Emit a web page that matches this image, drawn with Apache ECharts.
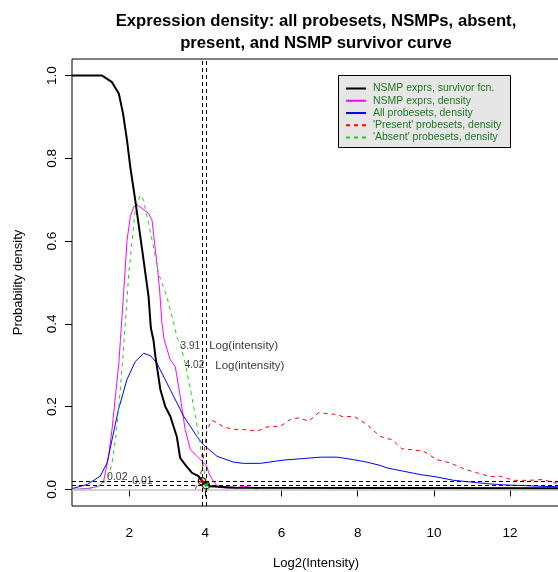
<!DOCTYPE html>
<html><head><meta charset="utf-8">
<script src="https://cdn.jsdelivr.net/npm/echarts@6/dist/echarts.min.js"></script>
<style>html,body{margin:0;padding:0;background:#fff}#c{width:558px;height:572px}</style>
</head><body><div id="c"></div>
<script>
// ---- data ----
const titleText = 'Expression density: all probesets, NSMPs, absent,\npresent, and NSMP survivor curve';
const xTicks = [2, 4, 6, 8, 10, 12];
const yTicks = [0, 0.2, 0.4, 0.6, 0.8, 1.0];
const seriesNames = ['NSMP exprs, survivor fcn.', 'NSMP exprs, density', 'All probesets, density', "'Present' probesets, density", "'Absent' probesets, density"];

const survX = [0.5, 1.29, 1.55, 1.73, 1.84, 1.945, 2.03, 2.16, 2.34, 2.51, 2.57, 2.64, 2.69, 2.82, 2.95, 3.08, 3.25, 3.34, 3.47, 3.65, 3.82, 3.95, 4.13, 4.8, 13.4];
const survY = [1.0, 1.0, 0.984, 0.956, 0.908, 0.843, 0.779, 0.699, 0.58, 0.466, 0.39, 0.36, 0.321, 0.241, 0.2, 0.177, 0.128, 0.076, 0.06, 0.04, 0.032, 0.017, 0.008, 0.004, 0.003];

const nsmpX = [0.5, 0.9, 1.2, 1.33, 1.375, 1.46, 1.55, 1.64, 1.73, 1.77, 1.86, 1.945, 2.03, 2.12, 2.21, 2.34, 2.51, 2.60, 2.66, 2.73, 2.80, 2.86, 2.92, 3.0, 3.08, 3.21, 3.34, 3.47, 3.61, 3.78, 3.96, 4.04, 4.09, 4.18, 4.34, 4.6, 4.8, 5.0, 5.27, 5.4];
const nsmpY = [0, 0.002, 0.008, 0.02, 0.04, 0.08, 0.145, 0.225, 0.305, 0.36, 0.482, 0.602, 0.659, 0.683, 0.687, 0.679, 0.667, 0.651, 0.602, 0.546, 0.482, 0.402, 0.361, 0.337, 0.313, 0.297, 0.225, 0.145, 0.096, 0.08, 0.064, 0.056, 0.04, 0.024, 0.005, 0.003, 0.004, 0.008, 0.004, 0.0];

const allX = [0.5, 0.9, 1.24, 1.42, 1.55, 1.72, 1.94, 2.16, 2.38, 2.56, 2.73, 3.08, 3.43, 3.78, 3.95, 4.31, 4.74, 5.0, 5.44, 6.06, 6.49, 7.02, 7.46, 7.89, 8.24, 8.59, 8.77, 9.2, 9.64, 10.08, 10.52, 10.96, 11.39, 11.83, 12.27, 12.7, 13.4];
const allY = [0.002, 0.012, 0.032, 0.064, 0.12, 0.193, 0.265, 0.309, 0.329, 0.323, 0.305, 0.241, 0.177, 0.128, 0.108, 0.08, 0.066, 0.063, 0.063, 0.071, 0.074, 0.078, 0.078, 0.072, 0.066, 0.058, 0.052, 0.044, 0.036, 0.030, 0.022, 0.018, 0.014, 0.011, 0.0096, 0.008, 0.006];

const presX = [3.74, 3.91, 4.0, 4.04, 4.09, 4.18, 4.22, 4.31, 4.48, 4.74, 5.0, 5.36, 5.62, 5.97, 6.23, 6.45, 6.71, 6.97, 7.24, 7.46, 7.63, 7.89, 8.24, 8.59, 8.9, 9.16, 9.43, 9.73, 10.08, 10.43, 10.78, 11.13, 11.48, 11.74, 12.09, 12.53, 12.88, 13.14, 13.4];
const presY = [0, 0.048, 0.112, 0.145, 0.153, 0.167, 0.169, 0.161, 0.151, 0.145, 0.145, 0.141, 0.151, 0.153, 0.169, 0.173, 0.165, 0.185, 0.183, 0.181, 0.175, 0.177, 0.157, 0.128, 0.12, 0.098, 0.096, 0.092, 0.072, 0.064, 0.050, 0.040, 0.031, 0.032, 0.022, 0.022, 0.024, 0.016, 0.015];

const absX = [0.5, 1.0, 1.2, 1.33, 1.46, 1.55, 1.64, 1.73, 1.81, 1.90, 1.99, 2.08, 2.16, 2.29, 2.38, 2.43, 2.51, 2.64, 2.77, 2.99, 3.17, 3.26, 3.34, 3.47, 3.61, 3.74, 3.87, 3.96, 4.04, 4.13, 4.2];
const absY = [0, 0.001, 0.008, 0.016, 0.032, 0.064, 0.12, 0.2, 0.289, 0.40, 0.522, 0.602, 0.675, 0.711, 0.699, 0.675, 0.643, 0.586, 0.522, 0.466, 0.402, 0.366, 0.353, 0.305, 0.241, 0.177, 0.104, 0.048, 0.016, 0.004, 0];

const cutX = [3.91, 4.02];
const cutY = [0.02, 0.01];
const annoX = [3.86, 4.10, 3.97, 4.26, 1.69, 2.35];
const annoY = [0.347, 0.347, 0.299, 0.299, 0.031, 0.021];
const annoText = ['3.91', 'Log(intensity)', '4.02', 'Log(intensity)', '0.02', '0.01'];

// ---- build ----
const FONT = 'Liberation Sans, Arial, sans-serif';
const zip = (xs, ys) => xs.map((x, i) => [x, ys[i]]);
const chart = echarts.init(document.getElementById('c'), null, {renderer: 'canvas'});

const lineSeries = (name, xs, ys, color, width, type, z) => ({
  name, type: 'line', data: zip(xs, ys), showSymbol: false, symbol: 'none',
  lineStyle: {color, width, type}, itemStyle: {color}, z, animation: false, silent: true
});

const annoAlign = ['right', 'left', 'right', 'left', 'center', 'center'];
const annoSize = [10, 11.5, 10, 11.5, 10.5, 10.5];

chart.setOption({
  animation: false,
  title: {
    text: titleText, left: 311, top: 5, textAlign: 'center',
    textStyle: {fontFamily: FONT, fontSize: 16.7, fontWeight: 'bold', lineHeight: 22, color: '#000'}
  },
  grid: {left: 72, top: 59, right: -2, bottom: 66, show: true, borderColor: '#000', borderWidth: 1,
    backgroundColor: 'transparent', containLabel: false, outerBoundsMode: 'none'},
  xAxis: {
    type: 'value', min: 0.5, max: 13.31,
    name: 'Log2(Intensity)', nameLocation: 'middle', nameGap: 51,
    nameTextStyle: {fontFamily: FONT, fontSize: 13, color: '#000'},
    axisLine: {show: false}, splitLine: {show: false},
    axisTick: {show: true, length: 7, lineStyle: {color: '#000'}, customValues: xTicks},
    axisLabel: {fontFamily: FONT, fontSize: 13.5, color: '#000', margin: 20, customValues: xTicks}
  },
  yAxis: {
    type: 'value', min: -0.04, max: 1.04,
    name: 'Probability density', nameLocation: 'middle', nameGap: 47,
    nameTextStyle: {fontFamily: FONT, fontSize: 13, color: '#000'},
    axisLine: {show: false}, splitLine: {show: false},
    axisTick: {show: true, length: 7, lineStyle: {color: '#000'}, customValues: yTicks},
    axisLabel: {fontFamily: FONT, fontSize: 13.5, color: '#000', margin: 13, rotate: 90,
      customValues: yTicks, formatter: v => v.toFixed(1)}
  },
  legend: {
    data: seriesNames, orient: 'vertical', left: 345, top: 83, padding: 0,
    itemWidth: 20, itemHeight: 12.3, itemGap: 1.25,
    itemStyle: {color: 'rgba(0,0,0,0)', borderColor: 'rgba(0,0,0,0)', borderWidth: 0},
    textStyle: {fontFamily: FONT, fontSize: 10.5, color: '#1f7a1f', padding: [0, 0, 0, 2]},
    selectedMode: false
  },
  graphic: [{
    type: 'rect', shape: {x: 338.5, y: 75.5, width: 172, height: 72},
    style: {fill: '#E6E6E6', stroke: '#000', lineWidth: 1}, z: 1, silent: true
  }],
  series: [
    {
      name: 'refs', type: 'line', data: [], silent: true, z: 1,
      markLine: {
        silent: true, symbol: 'none', label: {show: false}, animation: false,
        data: [
          {yAxis: 0, lineStyle: {color: '#C4C4C4', width: 1.5, type: 'solid'}},
          ...cutX.map(v => ({xAxis: v, lineStyle: {color: '#000', width: 1, type: [4, 3]}})),
          ...cutY.map(v => ({yAxis: v, lineStyle: {color: '#000', width: 1, type: [4, 3]}}))
        ]
      }
    },
    lineSeries(seriesNames[1], nsmpX, nsmpY, '#FF00FF', 1, 'solid', 3),
    lineSeries(seriesNames[2], allX, allY, '#0000FF', 1, 'solid', 3),
    lineSeries(seriesNames[3], presX, presY, '#FF0000', 1, [4, 4], 4),
    lineSeries(seriesNames[4], absX, absY, '#1ED01E', 1, [4, 4], 4),
    lineSeries(seriesNames[0], survX, survY, '#000000', 2, 'solid', 5),
    {
      name: 'cuts', type: 'scatter', data: zip(cutX, cutY), symbol: 'circle', symbolSize: 7,
      itemStyle: {color: 'rgba(0,0,0,0)', borderColor: '#000', borderWidth: 1.2}, z: 6, silent: true
    },
    {
      name: 'cutsInner', type: 'scatter', data: zip(cutX, cutY), symbol: 'circle', symbolSize: 4,
      itemStyle: {color: p => ['#FF0000', '#1ED01E'][p.dataIndex]}, z: 6, silent: true
    },
    {
      name: 'anno', type: 'scatter', symbolSize: 0, silent: true, z: 7,
      data: annoX.map((x, i) => ({
        value: [x, annoY[i]],
        label: {show: true, position: 'inside', formatter: annoText[i], align: annoAlign[i], verticalAlign: 'middle',
          fontFamily: FONT, fontSize: annoSize[i], color: '#000'}
      }))
    }
  ]
});
</script>
</body></html>
